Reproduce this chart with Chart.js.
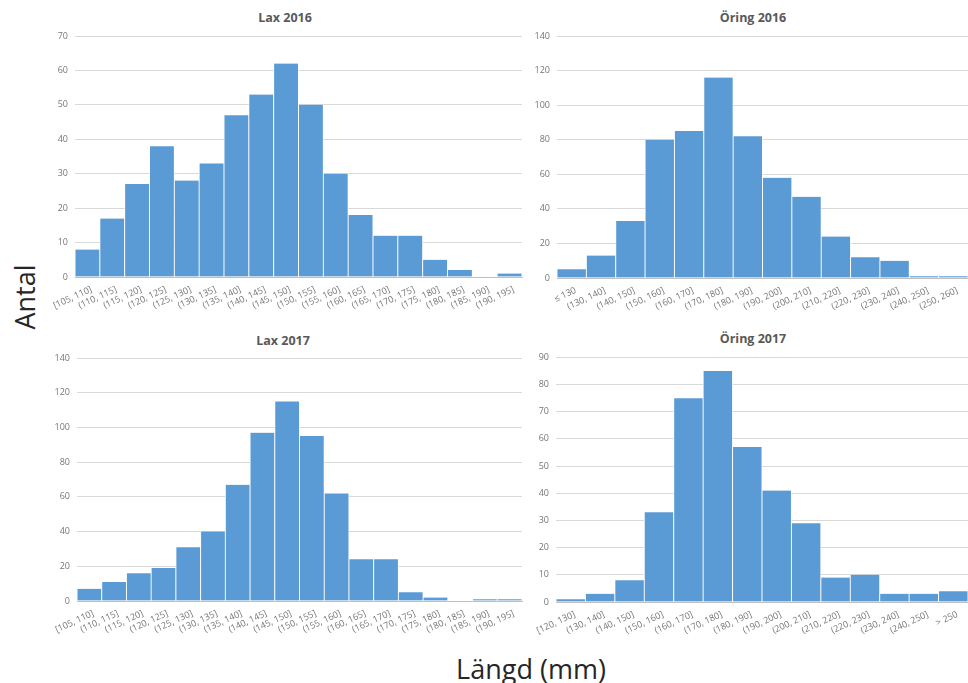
<!DOCTYPE html>
<html>
<head>
<meta charset="utf-8">
<script src="https://cdn.jsdelivr.net/npm/chart.js@4.4.1/dist/chart.umd.min.js"></script>
<style>
  body { margin: 0; width: 968px; height: 683px; overflow: hidden; background: #fff; position: relative; font-family: 'Open Sans', sans-serif; }
  canvas { position: absolute; }
  .title { position: absolute; transform: translate(-50%, -50%); font-weight: bold; font-size: 12.5px; color: #595959; white-space: nowrap; }
  .axis { position: absolute; transform: translate(-50%, -50%); font-size: 27px; color: #262626; white-space: nowrap; }
</style>
</head>
<body>
<div class="title" style="left:285px;top:17px">Lax 2016</div>
<div class="title" style="left:753px;top:17px">Öring 2016</div>
<div class="title" style="left:283px;top:340px">Lax 2017</div>
<div class="title" style="left:753px;top:338px">Öring 2017</div>
<div class="axis" style="left:24px;top:297px;transform:translate(-50%,-50%) rotate(-90deg)">Antal</div>
<div class="axis" style="left:531px;top:668px">Längd (mm)</div>

<canvas id="lax16" style="left:20px;top:20px" width="510" height="315"></canvas>
<canvas id="oring16" style="left:520px;top:20px" width="448" height="315"></canvas>
<canvas id="lax17" style="left:20px;top:345px" width="510" height="305"></canvas>
<canvas id="oring17" style="left:520px;top:345px" width="448" height="305"></canvas>

<script>
// bins (mm)
const laxBins = ["[105, 110]", "(110, 115]", "(115, 120]", "(120, 125]", "(125, 130]", "(130, 135]",
  "(135, 140]", "(140, 145]", "(145, 150]", "(150, 155]", "(155, 160]", "(160, 165]",
  "(165, 170]", "(170, 175]", "(175, 180]", "(180, 185]", "(185, 190]", "(190, 195]"];
const oring16Bins = ["≤ 130", "(130, 140]", "(140, 150]", "(150, 160]", "(160, 170]", "(170, 180]",
  "(180, 190]", "(190, 200]", "(200, 210]", "(210, 220]", "(220, 230]", "(230, 240]",
  "(240, 250]", "(250, 260]"];
const oring17Bins = ["[120, 130]", "(130, 140]", "(140, 150]", "(150, 160]", "(160, 170]", "(170, 180]",
  "(180, 190]", "(190, 200]", "(200, 210]", "(210, 220]", "(220, 230]", "(230, 240]",
  "(240, 250]", "> 250"];

// counts
const lax2016 = [8, 17, 27, 38, 28, 33, 47, 53, 62, 50, 30, 18, 12, 12, 5, 2, 0, 1];
const lax2017 = [7, 11, 16, 19, 31, 40, 67, 97, 115, 95, 62, 24, 24, 5, 2, 0, 1, 1];
const oring2016 = [5, 13, 33, 80, 85, 116, 82, 58, 47, 24, 12, 10, 1, 1];
const oring2017 = [1, 3, 8, 33, 75, 85, 57, 41, 29, 9, 10, 3, 3, 4];

const tickFont = { family: "'Open Sans'", size: 9 };
const tickColor = '#767676';

function makeHist(id, labels, values, yMax, yStep, area) {
  const cv = document.getElementById(id);
  const cl = cv.offsetLeft, ct = cv.offsetTop;
  return new Chart(cv, {
    type: 'bar',
    data: {
      labels: labels,
      datasets: [{
        data: values,
        backgroundColor: '#5b9bd5',
        borderColor: '#ffffff',
        borderWidth: { left: 0.8, right: 0.8, top: 0, bottom: 0 },
        barPercentage: 1,
        categoryPercentage: 1
      }]
    },
    options: {
      responsive: false,
      animation: false,
      layout: { padding: { top: area.top - ct, right: cl + cv.width - area.right, left: 0, bottom: 0 } },
      plugins: { legend: { display: false }, tooltip: { enabled: false } },
      scales: {
        x: {
          grid: { display: false, drawTicks: false },
          border: { color: '#bfbfbf' },
          ticks: { autoSkip: false, minRotation: 25, maxRotation: 25, font: tickFont, color: tickColor, padding: 7, labelOffset: 4 },
          afterFit: s => { s.height = ct + cv.height - area.bottom; }
        },
        y: {
          min: 0,
          max: yMax,
          grid: { color: '#d9d9d9', drawTicks: false },
          border: { display: false },
          ticks: { stepSize: yStep, font: tickFont, color: tickColor, padding: 7 },
          afterFit: s => { s.width = area.left - cl; }
        }
      }
    }
  });
}

makeHist('lax16', laxBins, lax2016, 70, 10, { left: 75, top: 36, right: 522, bottom: 277 });
makeHist('oring16', oring16Bins, oring2016, 140, 20, { left: 557, top: 36, right: 968, bottom: 278 });
makeHist('lax17', laxBins, lax2017, 140, 20, { left: 77, top: 358, right: 522, bottom: 601 });
makeHist('oring17', oring17Bins, oring2017, 90, 10, { left: 556, top: 357, right: 968, bottom: 602 });
</script>
</body>
</html>
